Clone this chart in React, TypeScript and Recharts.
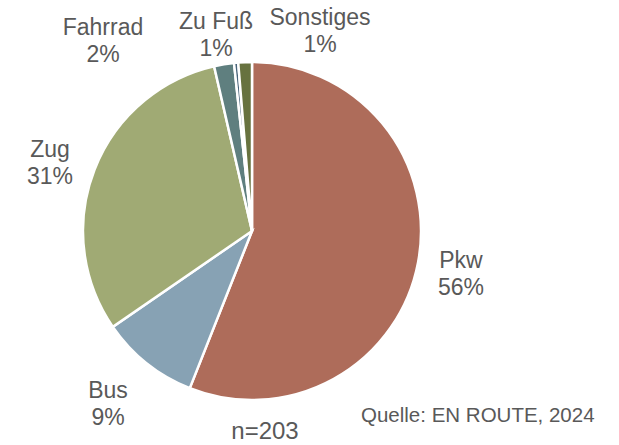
import { Pie, PieChart, Cell } from "recharts";

const CATEGORIES = ["Pkw", "Bus", "Zug", "Fahrrad", "Zu Fuß", "Sonstiges"];
const SHARES = [56.0, 9.4, 31.0, 1.9, 0.4, 1.3];
const SHARE_LABELS = ["56%", "9%", "31%", "2%", "1%", "1%"];
const COLORS = ["#ae6c5a", "#87a2b4", "#a0aa74", "#5f7f7f", "#48647a", "#67723f"];

// label anchor (name line baseline) relative to pie centre
const LABEL_OFFSETS: [number, number][] = [
  [209, 37],
  [-144, 167],
  [-202, -74],
  [-149, -196],
  [-36, -202],
  [68, -206],
];

const TEXT = "#595959";
const FONT = "'Liberation Sans', Arial, sans-serif";

const data = CATEGORIES.map((name, i) => ({
  name,
  value: SHARES[i],
  pct: SHARE_LABELS[i],
}));

function SliceLabel(props: any) {
  const { cx, cy, index } = props;
  const [dx, dy] = LABEL_OFFSETS[index];
  const x = cx + dx;
  const y = cy + dy;
  return (
    <text
      x={x}
      y={y}
      textAnchor="middle"
      fill={TEXT}
      fontSize={23}
      fontFamily={FONT}
    >
      <tspan x={x} y={y}>
        {data[index].name}
      </tspan>
      <tspan x={x} y={y + 27}>
        {data[index].pct}
      </tspan>
    </text>
  );
}

export default function App() {
  return (
    <div
      style={{
        position: "absolute",
        left: 0,
        top: 0,
        width: 619,
        height: 445,
        background: "#fff",
      }}
    >
      <PieChart width={619} height={445} margin={{ top: 0, right: 0, bottom: 0, left: 0 }}>
        <Pie
          data={data}
          dataKey="value"
          nameKey="name"
          cx={252}
          cy={231}
          outerRadius={169}
          startAngle={90}
          endAngle={-270}
          stroke="#ffffff"
          strokeWidth={2.5}
          label={SliceLabel}
          labelLine={false}
          isAnimationActive={false}
        >
          {data.map((d, i) => (
            <Cell key={d.name} fill={COLORS[i]} />
          ))}
        </Pie>
        <text
          x={265}
          y={439}
          textAnchor="middle"
          fill={TEXT}
          fontSize={24}
          fontFamily={FONT}
        >
          n=203
        </text>
        <text
          x={361}
          y={422}
          fill={TEXT}
          fontSize={20.5}
          fontFamily={FONT}
        >
          Quelle: EN ROUTE, 2024
        </text>
      </PieChart>
    </div>
  );
}
